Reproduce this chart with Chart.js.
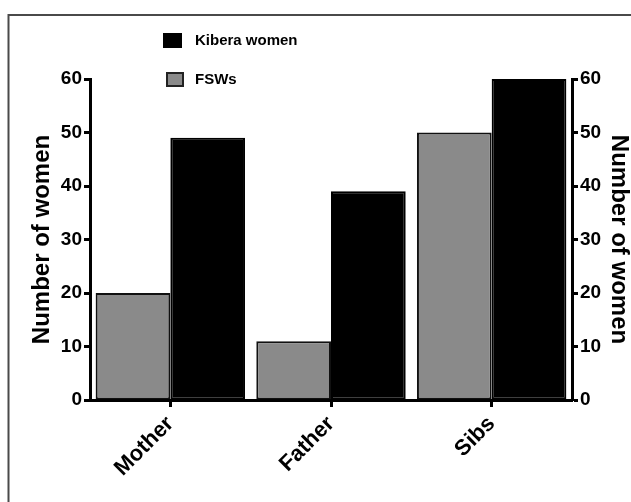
<!DOCTYPE html>
<html>
<head>
<meta charset="utf-8">
<script src="https://cdn.jsdelivr.net/npm/chart.js@4/dist/chart.umd.min.js"></script>
<style>
  html, body { margin: 0; padding: 0; background: #ffffff; }
  #wrap { width: 631px; height: 502px; position: relative; }
</style>
</head>
<body>
<div id="wrap"><canvas id="c" width="631" height="502"></canvas></div>
<script>
// ---- data ----
const categories = ["Mother", "Father", "Sibs"];
const fswValues = [20, 11, 50];
const kiberaValues = [49, 39, 60];
const yTicks = [0, 10, 20, 30, 40, 50, 60];
const seriesNames = ["FSWs", "Kibera women"];
const axisTitle = "Number of women";

const FONT = "'Liberation Sans', Arial, Helvetica, sans-serif";

const framePlugin = {
  id: 'frame',
  beforeDraw(chart) {
    const ctx = chart.ctx;
    ctx.save();
    ctx.fillStyle = '#ffffff';
    ctx.fillRect(0, 0, chart.width, chart.height);
    ctx.strokeStyle = '#4a4a4a';
    ctx.lineWidth = 2;
    ctx.beginPath();
    ctx.moveTo(8.5, chart.height + 5);
    ctx.lineTo(8.5, 15);
    ctx.lineTo(chart.width + 5, 15);
    ctx.stroke();
    ctx.restore();
  }
};

const legendPlugin = {
  id: 'customLegend',
  afterDraw(chart) {
    const ctx = chart.ctx;
    const ds = chart.data.datasets;
    ctx.save();
    ctx.font = "bold 15px " + FONT;
    ctx.textBaseline = 'middle';
    // Kibera women (dataset 1)
    ctx.fillStyle = ds[1].backgroundColor;
    ctx.fillRect(163, 33, 19, 15);
    ctx.fillStyle = '#000';
    ctx.fillText(ds[1].label, 195, 41);
    // FSWs (dataset 0)
    ctx.fillStyle = ds[0].backgroundColor;
    ctx.fillRect(167, 73, 16, 13);
    ctx.strokeStyle = '#222';
    ctx.lineWidth = 2;
    ctx.strokeRect(167, 73, 16, 13);
    ctx.fillStyle = '#000';
    ctx.fillText(ds[0].label, 195, 80);
    ctx.restore();
  }
};

const tickFont = { family: FONT, size: 19, weight: 'bold' };
const titleFont = { family: FONT, size: 24, weight: 'bold', lineHeight: 1.0 };

new Chart(document.getElementById('c'), {
  type: 'bar',
  data: {
    labels: categories,
    datasets: [
      {
        label: seriesNames[0],
        data: fswValues,
        backgroundColor: '#8a8a8a',
        borderColor: '#111',
        borderWidth: 2,
        borderSkipped: false,
        yAxisID: 'y'
      },
      {
        label: seriesNames[1],
        data: kiberaValues,
        backgroundColor: '#000000',
        borderColor: '#000000',
        borderWidth: 2,
        borderSkipped: false,
        yAxisID: 'y'
      }
    ]
  },
  options: {
    responsive: false,
    animation: false,
    devicePixelRatio: 1,
    layout: { padding: { top: 79, left: 0, right: 0, bottom: 0 } },
    datasets: { bar: { categoryPercentage: 0.93, barPercentage: 1.0 } },
    plugins: {
      legend: { display: false },
      tooltip: { enabled: false }
    },
    scales: {
      x: {
        type: 'category',
        offset: true,
        grid: { display: true, drawOnChartArea: false, offset: false, tickLength: 7, tickWidth: 3, tickColor: '#000' },
        border: { display: true, width: 3, color: '#000' },
        ticks: { font: { family: FONT, size: 22, weight: 'bold' }, color: '#000', minRotation: 45, maxRotation: 45, padding: 4 },
        afterFit(scale) { scale.height = 102; }
      },
      y: {
        position: 'left',
        min: 0, max: 60,
        afterBuildTicks(scale) { scale.ticks = yTicks.map(v => ({ value: v })); },
        grid: { display: true, drawOnChartArea: false, tickLength: 6, tickWidth: 3, tickColor: '#000' },
        border: { display: true, width: 3, color: '#000' },
        ticks: { font: tickFont, color: '#000', padding: 2 },
        title: { display: true, text: axisTitle, font: titleFont, color: '#000', padding: { top: 30, bottom: 0 } },
        afterFit(scale) { scale.width = 90; }
      },
      y2: {
        position: 'right',
        min: 0, max: 60,
        afterBuildTicks(scale) { scale.ticks = yTicks.map(v => ({ value: v })); },
        grid: { display: true, drawOnChartArea: false, tickLength: 6, tickWidth: 3, tickColor: '#000' },
        border: { display: true, width: 3, color: '#000' },
        ticks: { font: tickFont, color: '#000', padding: 2 },
        title: { display: true, text: axisTitle, font: titleFont, color: '#000', padding: { top: 0, bottom: 0 } },
        afterFit(scale) { scale.width = 59; }
      }
    }
  },
  plugins: [framePlugin, legendPlugin]
});
</script>
</body>
</html>
